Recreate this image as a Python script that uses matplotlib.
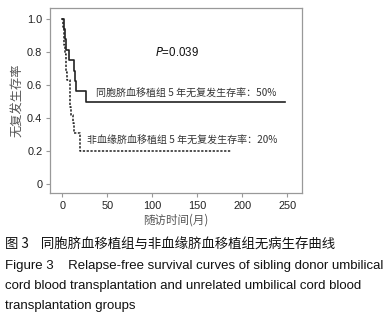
import matplotlib
matplotlib.use("Agg")
import matplotlib.pyplot as plt

# Kaplan-Meier step data
sib_t = [0, 2, 3, 4, 7, 13.5, 14.5, 15.5, 26, 247]
sib_s = [1.0, 0.9375, 0.875, 0.8125, 0.75, 0.6875, 0.625, 0.5625, 0.5, 0.5]

unrel_t = [0, 1, 1.8, 2.4, 3, 3.6, 4.2, 5, 8.5, 9, 10, 11.5, 13, 19.5, 188]
unrel_s = [1.0, 0.95, 0.89, 0.84, 0.79, 0.74, 0.68, 0.63, 0.58, 0.47, 0.42, 0.37, 0.31, 0.20, 0.20]

xticks = [0, 50, 100, 150, 200, 250]
yticks = [0, 0.2, 0.4, 0.6, 0.8, 1.0]
ytick_labels = ["0", "0.2", "0.4", "0.6", "0.8", "1.0"]

label_sib = "同胞脐血移植组 5 年无复发生存率：50%"
label_unrel = "非血缘脐血移植组 5 年无复发生存率：20%"
cap_cn = "图 3    同胞脐血移植组与非血缘脐血移植组无病生存曲线"
cap_en = ["Figure 3    Relapse-free survival curves of sibling donor umbilical",
          "cord blood transplantation and unrelated umbilical cord blood",
          "transplantation groups"]

plt.rcParams["font.family"] = ["Liberation Sans", "Noto Sans CJK SC", "DejaVu Sans"]
cjk = ["Noto Sans CJK SC", "DejaVu Sans"]

fig = plt.figure(figsize=(3.89, 3.20), dpi=100)
ax = fig.add_axes([0.1285, 0.396, 0.647, 0.579])

ax.step(sib_t, sib_s, where="post", color="#222222", linewidth=1.2)
ax.step(unrel_t, unrel_s, where="post", color="#222222", linewidth=1.1,
        linestyle=(0, (1.5, 1.0)))

ax.set_xlim(-13.7, 266)
ax.set_ylim(-0.054, 1.065)
ax.set_xticks(xticks)
ax.set_yticks(yticks)
ax.set_yticklabels(ytick_labels)
for s in ax.spines.values():
    s.set_color("#999999")
    s.set_linewidth(0.9)
ax.tick_params(colors="#999999", labelcolor="#222222", labelsize=7.9,
               length=3, width=0.8, pad=2.5)

ax.text(127.5, 0.797, "$P$=0.039", fontsize=8.3, ha="center", va="center",
        color="#111111")
ax.text(37.4, 0.553, label_sib, fontsize=7.2, family=cjk, ha="left",
        va="center", color="#333333")
ax.text(27.5, 0.267, label_unrel, fontsize=7.2, family=cjk, ha="left",
        va="center", color="#333333")

ax.set_ylabel("无复发生存率", family=cjk, fontsize=8.8, color="#555555",
              labelpad=2)
ax.set_xlabel("随访时间(月)", family=cjk, fontsize=8.3, color="#555555",
              labelpad=2)

fig.text(0.012, (320 - 245) / 320, cap_cn, family=cjk, fontsize=9.65,
         va="center", ha="left", color="#111111")
for i, line in enumerate(cap_en):
    fig.text(0.012, (320 - 266 - 20 * i) / 320, line, fontsize=9.5,
             va="center", ha="left", color="#111111")

fig.savefig("out.png", dpi=100)
